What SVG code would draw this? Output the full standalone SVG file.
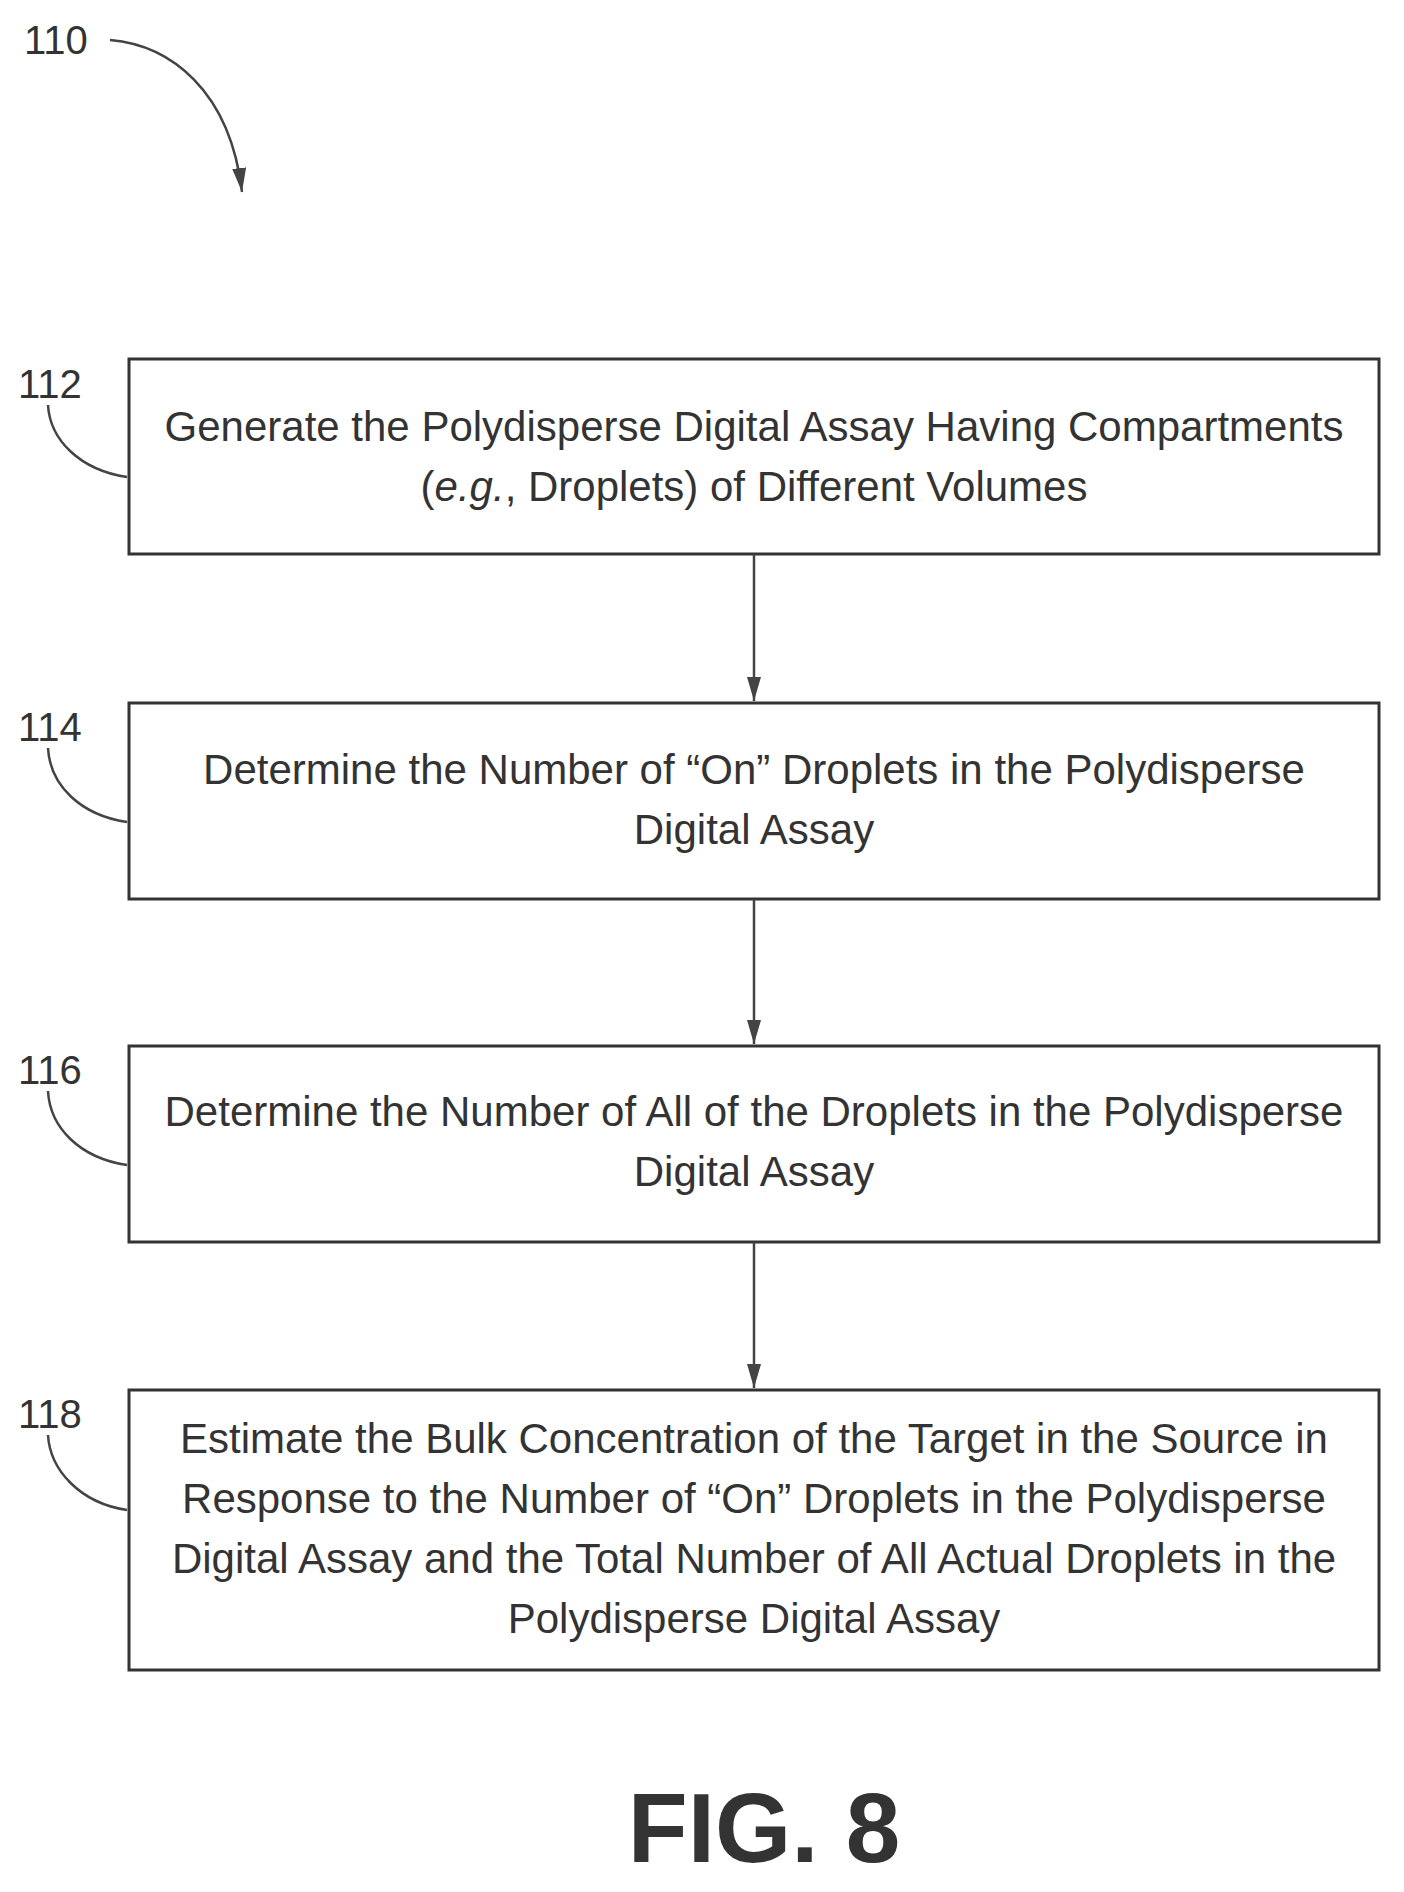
<svg xmlns="http://www.w3.org/2000/svg" width="1404" height="1892" viewBox="0 0 1404 1892">
<defs>
<marker id="ah" markerWidth="24" markerHeight="14" refX="24" refY="7" orient="auto" markerUnits="userSpaceOnUse" viewBox="0 0 24 14"><path d="M0,0 L24,7 L0,14 Z" fill="#444"/></marker>
<style>
.box{fill:#fff;stroke:#333;stroke-width:3}
.t{font-family:"Liberation Sans",Arial,sans-serif;font-size:42px;fill:#333;text-anchor:middle}
.l{font-family:"Liberation Sans",Arial,sans-serif;font-size:40px;fill:#333}
.c{fill:none;stroke:#444;stroke-width:2.5}
</style>
</defs>
<rect width="1404" height="1892" fill="#fff"/>
<g id="label110">
<text class="l" x="24" y="54">110</text>
<path class="c" d="M110,40 C170,45 230,90 242,192" marker-end="url(#ah)"/>
</g>
<g id="n112">
<rect class="box" x="129" y="359" width="1250" height="195"/>
<text class="t" x="754" y="441">Generate the Polydisperse Digital Assay Having Compartments</text>
<text class="t" x="754" y="501">(<tspan font-style="italic">e.g.</tspan>, Droplets) of Different Volumes</text>
<text class="l" x="18" y="398">112</text>
<path class="c" d="M48,405 C50,440 80,470 127,477"/>
</g>
<g id="n114">
<rect class="box" x="129" y="703" width="1250" height="196"/>
<text class="t" x="754" y="784">Determine the Number of “On” Droplets in the Polydisperse</text>
<text class="t" x="754" y="844">Digital Assay</text>
<text class="l" x="18" y="741">114</text>
<path class="c" d="M48,748 C50,785 80,815 127,822"/>
</g>
<g id="n116">
<rect class="box" x="129" y="1046" width="1250" height="196"/>
<text class="t" x="754" y="1126">Determine the Number of All of the Droplets in the Polydisperse</text>
<text class="t" x="754" y="1186">Digital Assay</text>
<text class="l" x="18" y="1084">116</text>
<path class="c" d="M48,1091 C50,1128 80,1158 127,1165"/>
</g>
<g id="n118">
<rect class="box" x="129" y="1390" width="1250" height="280"/>
<text class="t" x="754" y="1453">Estimate the Bulk Concentration of the Target in the Source in</text>
<text class="t" x="754" y="1513">Response to the Number of “On” Droplets in the Polydisperse</text>
<text class="t" x="754" y="1573">Digital Assay and the Total Number of All Actual Droplets in the</text>
<text class="t" x="754" y="1633">Polydisperse Digital Assay</text>
<text class="l" x="18" y="1428">118</text>
<path class="c" d="M48,1435 C50,1470 80,1503 127,1510"/>
</g>
<g id="connectors">
<line class="c" x1="754" y1="554" x2="754" y2="701" marker-end="url(#ah)"/>
<line class="c" x1="754" y1="899" x2="754" y2="1044" marker-end="url(#ah)"/>
<line class="c" x1="754" y1="1242" x2="754" y2="1388" marker-end="url(#ah)"/>
</g>
<text x="764" y="1862" font-family="Liberation Sans,Arial,sans-serif" font-weight="bold" font-size="98" fill="#333" text-anchor="middle">FIG. 8</text>
</svg>
